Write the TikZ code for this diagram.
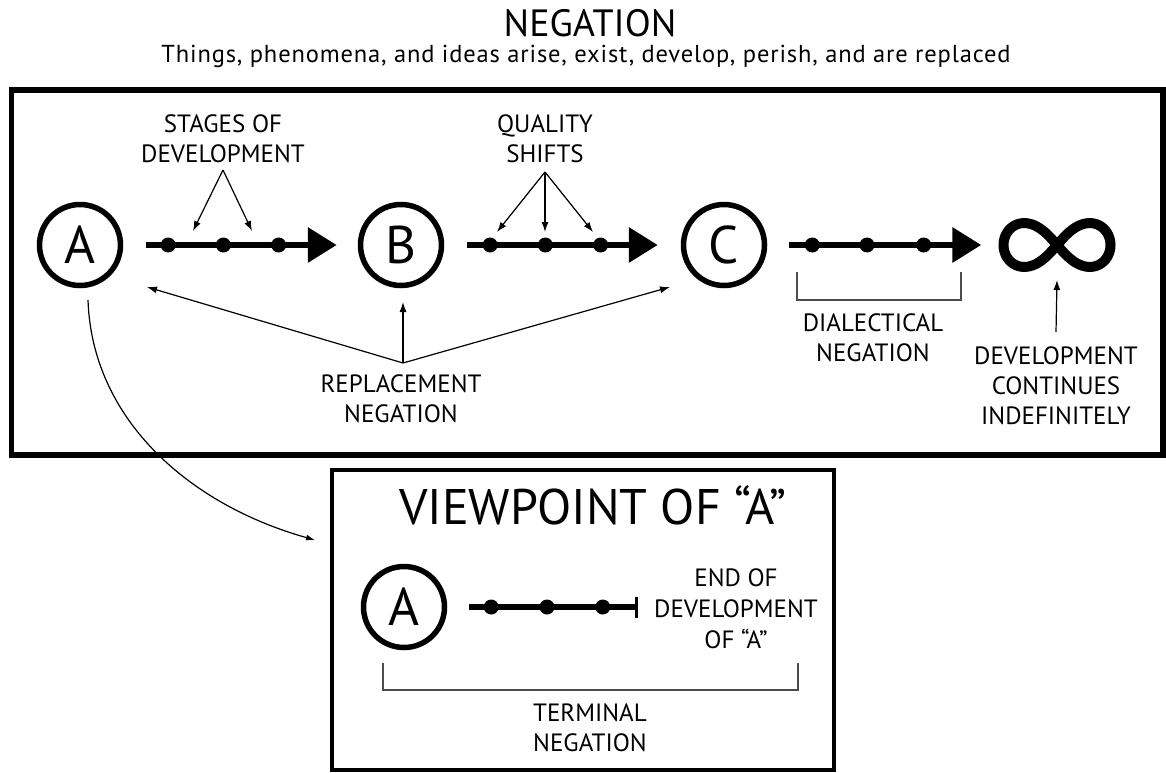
\documentclass[tikz,border=0pt]{standalone}
\usepackage{fontspec}
\setmainfont{PT Sans}
\usetikzlibrary{arrows.meta}

\begin{document}
\begin{tikzpicture}[x=1pt,y=-1pt,
  lbl/.style={font=\fontsize{25}{30}\selectfont, align=center, inner sep=0pt},
  circ/.style={circle, draw, line width=5.5pt, minimum size=81pt, inner sep=0pt,
               font=\fontsize{53}{53}\selectfont},
  bigarrow/.style={line width=6.5pt, -{Triangle[length=29pt,width=34pt]}},
  thinarrow/.style={line width=1.2pt, -{Latex[length=10pt,width=7pt]}},
  brk/.style={line width=1.5pt, draw=black!70},
  dot/.style={circle, fill, inner sep=0pt, minimum size=15pt},
]
\useasboundingbox (0,0) rectangle (1166,772);

% heading
\node[font=\fontsize{38}{38}\selectfont, inner sep=0pt] (title) at (590,23) {NEGATION};
\node[font=\fontsize{24.5}{24.5}\selectfont\addfontfeatures{LetterSpace=3.5}, inner sep=0pt, anchor=base] (sub) at (586,62)
  {Things, phenomena, and ideas arise, exist, develop, perish, and are replaced};

% outer frame
\draw[line width=5.5pt] (11.5,90) rectangle (1163,455);

% stages A, B, C and infinity
\node[circ] (A) at (80,245) {A};
\node[circ] (B) at (401,245) {B};
\node[circ] (C) at (724,245) {C};
\node[minimum width=117pt, minimum height=54pt, inner sep=0pt] (inf) at (1057,245) {};
\draw[line width=10pt, line join=round]
  plot[domain=0:360, samples=145, variable=\t]
  ({1057+53.5*cos(\t)/(1+sin(\t)^2)}, {245+62*sin(\t)*cos(\t)/(1+sin(\t)^2)}) -- cycle;

% development lines
\draw[bigarrow] ([xshift=23pt]A.east) -- ([xshift=-21pt]B.west)
  node[dot,pos=.115] (a1) {} node[dot,pos=.405] (a2) {} node[dot,pos=.695] (a3) {};
\draw[bigarrow] ([xshift=23pt]B.east) -- ([xshift=-23pt]C.west)
  node[dot,pos=.12] (b1) {} node[dot,pos=.41] (b2) {} node[dot,pos=.70] (b3) {};
\draw[bigarrow] ([xshift=22pt]C.east) -- ([xshift=-17pt]inf.west)
  node[dot,pos=.12] (c1) {} node[dot,pos=.405] (c2) {} node[dot,pos=.70] (c3) {};

% stages of development
\node[lbl] (stages) at (223,139) {STAGES OF\\DEVELOPMENT};
\coordinate (stapex) at (223,170);
\coordinate (st1) at (193,231);
\coordinate (st2) at (252,231);
\draw[thinarrow] (stapex) -- (st1);
\draw[thinarrow] (stapex) -- (st2);

% quality shifts
\node[lbl] (quality) at (545,139) {QUALITY\\SHIFTS};
\coordinate (qapex) at (545,172);
\coordinate (q1) at (497,232);
\coordinate (q2) at (545,232);
\coordinate (q3) at (593,232);
\draw[thinarrow] (qapex) -- (q1);
\draw[thinarrow] (qapex) -- (q2);
\draw[thinarrow] (qapex) -- (q3);

% replacement negation
\node[lbl] (repl) at (401,399) {REPLACEMENT\\NEGATION};
\coordinate (rj) at (403,363);
\coordinate (r1) at (147,287);
\coordinate (r2) at (403,302);
\coordinate (r3) at (670,287);
\draw[thinarrow] (rj) -- (r1);
\draw[thinarrow] (rj) -- (r2);
\draw[thinarrow] (rj) -- (r3);

% dialectical negation
\draw[brk] (797,272) -- (797,300) -- (961,300) -- (961,272);
\node[lbl] (dial) at (873,338) {DIALECTICAL\\NEGATION};

% development continues
\node[lbl] (cont) at (1056,386) {DEVELOPMENT\\CONTINUES\\INDEFINITELY};
\coordinate (contup) at (1056,332);
\draw[thinarrow] (contup) -- ([yshift=-35pt]inf.center);

% viewpoint box
\draw[line width=4pt] (332,470) rectangle (834,770);
\coordinate (vbox) at (315,540);
\coordinate (Astart) at (88,300);
\draw[line width=1.2pt, -{Latex[length=9pt,width=6pt]}]
  (Astart) .. controls (92,420) and (190,505) .. (vbox);

\node[font=\fontsize{50}{50}\selectfont, inner sep=0pt] (vp) at (593,505) {VIEWPOINT OF “A”};
\node[circ] (A2) at (404,607) {A};
\draw[line width=6.5pt, -{Bar[width=21pt,line width=3.5pt]}]
  ([xshift=22pt]A2.east) -- ++(169,0)
  node[dot,pos=.13] (d1) {} node[dot,pos=.46] (d2) {} node[dot,pos=.79] (d3) {};
\node[lbl, font=\fontsize{25}{31}\selectfont] (endof) at (736,609) {END OF\\DEVELOPMENT\\OF “A”};

% terminal negation
\draw[brk] (383,663) -- (383,690) -- (798,690) -- (798,663);
\node[lbl] (term) at (590,728) {TERMINAL\\NEGATION};
\end{tikzpicture}
\end{document}
